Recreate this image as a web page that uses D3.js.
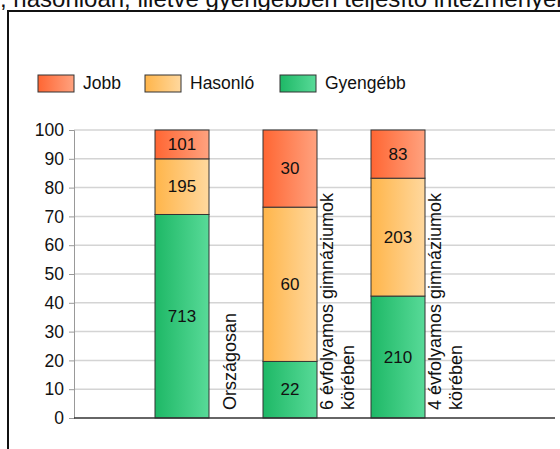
<!DOCTYPE html>
<html>
<head>
<meta charset="utf-8">
<script src="https://cdn.jsdelivr.net/npm/d3@7"></script>
<style>
  body { margin: 0; background: #fff; }
  svg { display: block; font-family: Arial, "Liberation Sans", sans-serif; }
</style>
</head>
<body>
<svg width="560" height="449"></svg>
<script>
// Data
const categories = ["Országosan", "6 évfolyamos gimnáziumok körében", "4 évfolyamos gimnáziumok körében"];
const categoryLines = [["Országosan"], ["6 évfolyamos gimnáziumok", "körében"], ["4 évfolyamos gimnáziumok", "körében"]];
const seriesNames = ["Gyengébb", "Hasonló", "Jobb"];
const gyengebb = [713, 22, 210];
const hasonlo = [195, 60, 203];
const jobb = [101, 30, 83];
const yTicks = [0, 10, 20, 30, 40, 50, 60, 70, 80, 90, 100];
const legendOrder = ["Jobb", "Hasonló", "Gyengébb"];

const colors = {
    "Jobb": ["#ff6633", "#ffa27f"],
    "Hasonló": ["#ffb54a", "#ffd89e"],
    "Gyengébb": ["#1eb866", "#58da98"]
};

const svg = d3.select("svg"),
    width = +svg.attr("width"),
    height = +svg.attr("height");

// gradients
const defs = svg.append("defs");
Object.keys(colors).forEach((k, i) => {
    const g = defs.append("linearGradient")
        .attr("id", "grad" + i)
        .attr("x1", 0).attr("x2", 1).attr("y1", 0).attr("y2", 0);
    g.append("stop").attr("offset", "0%").attr("stop-color", colors[k][0]);
    g.append("stop").attr("offset", "100%").attr("stop-color", colors[k][1]);
});
const gradId = k => "url(#grad" + Object.keys(colors).indexOf(k) + ")";

// title (only lower part visible)
svg.append("text")
    .attr("x", 0).attr("y", 7)
    .attr("text-anchor", "end")
    .style("font-size", "24px")
    .text("A telephely tanulóinak eredményei a jobban");
svg.append("text")
    .attr("x", 0).attr("y", 7)
    .style("font-size", "24px")
    .attr("fill", "#111")
    .text(", hasonlóan, illetve gyengébben teljesítő intézményekéhez viszonyítva");

// frame
svg.append("rect")
    .attr("x", 8).attr("y", 11)
    .attr("width", 600).attr("height", 500)
    .style("fill", "none")
    .style("stroke", "#111")
    .style("stroke-width", "2px");

// legend
const legend = svg.append("g");
const legendX = [38, 145, 280];
legendOrder.forEach((name, i) => {
    const lg = legend.append("g").attr("transform", `translate(${legendX[i]},75)`);
    lg.append("rect")
        .attr("width", 36).attr("height", 17)
        .style("fill", gradId(name))
        .style("stroke", "#333").style("stroke-width", "1px");
    lg.append("text")
        .attr("x", 45).attr("y", 14)
        .style("font-size", "17.5px")
        .attr("fill", "#111")
        .text(name);
});

// scales
const y = d3.scaleLinear().domain([0, 100]).range([418, 130]);
const x = d3.scaleBand()
    .domain(categories)
    .range([128, 452])
    .paddingInner(0.5)
    .paddingOuter(0.25);

// grid
svg.append("g")
    .selectAll("line")
    .data(yTicks.filter(d => d > 0))
    .join("line")
    .attr("x1", 74).attr("x2", 555)
    .attr("y1", d => y(d)).attr("y2", d => y(d))
    .style("stroke", "#d4d4d4")
    .style("stroke-width", "1.5px");

// y axis
const yAxis = svg.append("g")
    .attr("transform", "translate(74,0)")
    .call(d3.axisLeft(y).tickValues(yTicks).tickSize(5).tickPadding(5));
yAxis.select(".domain").attr("stroke", "#999");
yAxis.selectAll(".tick line").attr("stroke", "#999");
yAxis.selectAll("text")
    .style("font-size", "17.5px")
    .style("font-family", "Arial, 'Liberation Sans', sans-serif")
    .attr("fill", "#111");

// stacked percentages
const rows = categories.map((c, i) => {
    const tot = gyengebb[i] + hasonlo[i] + jobb[i];
    return {
        cat: c,
        "Gyengébb": gyengebb[i] / tot * 100,
        "Hasonló": hasonlo[i] / tot * 100,
        "Jobb": jobb[i] / tot * 100,
        raw: { "Gyengébb": gyengebb[i], "Hasonló": hasonlo[i], "Jobb": jobb[i] }
    };
});
const stacked = d3.stack().keys(seriesNames)(rows);

const layers = svg.append("g")
    .selectAll("g")
    .data(stacked)
    .join("g");

layers.selectAll("rect")
    .data(s => s.map(d => ({ key: s.key, d })))
    .join("rect")
    .attr("x", e => x(e.d.data.cat))
    .attr("width", x.bandwidth())
    .attr("y", e => y(e.d[1]))
    .attr("height", e => y(e.d[0]) - y(e.d[1]))
    .style("fill", e => gradId(e.key))
    .style("stroke", "#333")
    .style("stroke-width", "1px");

layers.selectAll("text")
    .data(s => s.map(d => ({ key: s.key, d })))
    .join("text")
    .attr("x", e => x(e.d.data.cat) + x.bandwidth() / 2)
    .attr("y", e => (y(e.d[0]) + y(e.d[1])) / 2)
    .attr("text-anchor", "middle")
    .attr("dominant-baseline", "central")
    .style("font-size", "17px")
    .attr("fill", "#111")
    .text(e => e.d.data.raw[e.key]);

// baseline
svg.append("line")
    .attr("x1", 74).attr("x2", 555)
    .attr("y1", y(0)).attr("y2", y(0))
    .style("stroke", "#333")
    .style("stroke-width", "1.5px");

// category labels, rotated, right of each bar
const lineH = 21;
categories.forEach((c, i) => {
    const lines = categoryLines[i];
    const cx = x(c) + x.bandwidth() + 20.5;
    lines.forEach((ln, j) => {
        const lx = cx + (j - (lines.length - 1) / 2) * lineH;
        svg.append("text")
            .attr("transform", `translate(${lx},410) rotate(-90)`)
            .attr("dominant-baseline", "central")
            .style("font-size", "18px")
            .attr("fill", "#111")
            .text(ln);
    });
});
</script>
</body>
</html>
